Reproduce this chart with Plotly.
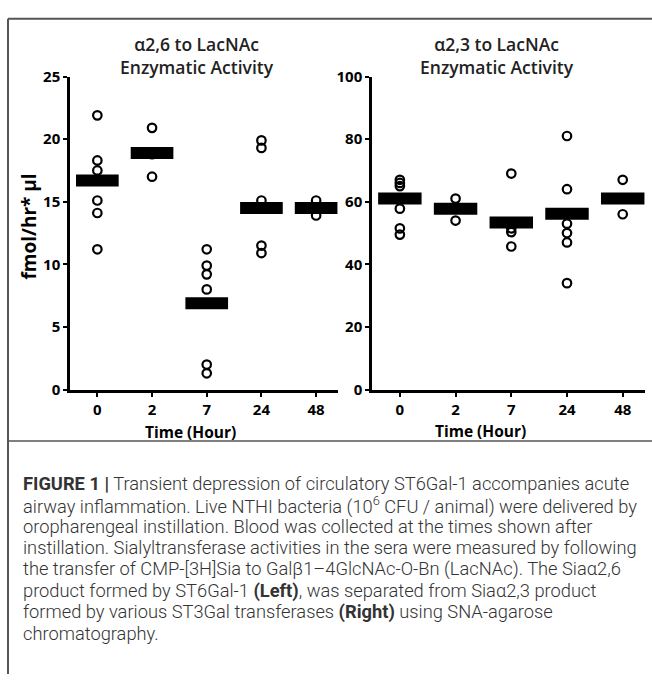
import plotly.graph_objects as go

W, H = 652, 683

times = ["0", "2", "7", "24", "48"]

# alpha2,6 (left) individual values
a26_t0 = [21.9, 18.3, 17.5, 15.1, 14.1, 11.2]
a26_t2 = [20.9, 18.8, 17.0]
a26_t7 = [11.2, 9.9, 9.2, 8.0, 2.0, 1.3]
a26_t24 = [19.9, 19.3, 15.1, 14.5, 11.5, 10.9]
a26_t48 = [15.1, 14.5, 13.9]
a26_means = [16.7, 18.9, 6.9, 14.5, 14.5]

# alpha2,3 (right) individual values
a23_t0 = [67.0, 66.0, 65.0, 57.8, 51.5, 49.5]
a23_t2 = [61.0, 57.8, 54.0]
a23_t7 = [69.0, 53.4, 51.5, 50.3, 45.7]
a23_t24 = [81.0, 64.0, 56.2, 53.0, 50.0, 47.0, 34.0]
a23_t48 = [67.0, 61.0, 56.0]
a23_means = [61.0, 57.8, 53.4, 56.2, 61.0]

left_groups = [a26_t0, a26_t2, a26_t7, a26_t24, a26_t48]
right_groups = [a23_t0, a23_t2, a23_t7, a23_t24, a23_t48]

fig = go.Figure()

HALF = 0.39


def add_panel(groups, means, xa, ya):
    xs, ys = [], []
    for i, g in enumerate(groups):
        xs += [i] * len(g)
        ys += g
    bx, by = [], []
    for i, m in enumerate(means):
        bx += [i - HALF, i + HALF, None]
        by += [m, m, None]
    fig.add_trace(go.Scatter(x=bx, y=by, mode="lines", xaxis=xa, yaxis=ya,
                             line=dict(color="black", width=12),
                             showlegend=False, hoverinfo="skip"))
    fig.add_trace(go.Scatter(x=xs, y=ys, mode="markers", xaxis=xa, yaxis=ya,
                             marker=dict(symbol="circle-open", size=8.5,
                                         color="black", line=dict(width=2.2, color="black")),
                             showlegend=False))


add_panel(left_groups, a26_means, "x", "y")
add_panel(right_groups, a23_means, "x2", "y2")

tickfont = dict(family="Open Sans", size=15, color="black", weight="bold")
xcommon = dict(range=[-0.5, 4.4], tickvals=list(range(len(times))), ticktext=times,
               showline=True, linecolor="black", linewidth=2.5, ticks="outside",
               ticklen=5, tickwidth=2, tickcolor="black", showgrid=False,
               zeroline=False, tickfont=tickfont)
ycommon = dict(showline=True, linecolor="black", linewidth=2.5, ticks="outside",
               ticklen=4, tickwidth=2, tickcolor="black", showgrid=False,
               zeroline=False, tickfont=tickfont)

ydom = [1 - 390 / H, 1 - 67.5 / H]
fig.update_layout(
    width=W, height=H, margin=dict(l=0, r=0, t=0, b=0),
    paper_bgcolor="white", plot_bgcolor="white",
    xaxis=dict(domain=[70 / W, 338 / W], anchor="y", **xcommon),
    yaxis=dict(domain=ydom, anchor="x", range=[0, 25], tickvals=[0, 5, 10, 15, 20, 25], **ycommon),
    xaxis2=dict(domain=[372 / W, 645 / W], anchor="y2", **xcommon),
    yaxis2=dict(domain=ydom, anchor="x2", range=[0, 100], tickvals=[0, 20, 40, 60, 80, 100], **ycommon),
)

ann = []
tfont = dict(family="Open Sans", size=17.5, color="#222", weight=600)


def add_text(text, x, y, font, **kw):
    d = dict(text=text, x=x / W, y=1 - y / H, font=font, showarrow=False,
             xref="paper", yref="paper", xanchor="center", yanchor="middle")
    d.update(kw)
    ann.append(d)


add_text("α2,6 to LacNAc<br>Enzymatic Activity", 197, 46, tfont)
add_text("α2,3 to LacNAc<br>Enzymatic Activity", 497, 46, tfont)
lfont = dict(family="Open Sans", size=15.5, color="black", weight="bold")
add_text("Time (Hour)", 190, 434, lfont)
add_text("Time (Hour)", 480, 433, lfont)
add_text("fmol/hr* µl", 29, 222,
         dict(family="Open Sans", size=19, color="black", weight="bold"), textangle=-90)

caption = [
    "<b>FIGURE 1 |</b> Transient depression of circulatory ST6Gal-1 accompanies acute",
    "airway inflammation. Live NTHI bacteria (10<sup>6</sup> CFU / animal) were delivered by",
    "oropharengeal instillation. Blood was collected at the times shown after",
    "instillation. Sialyltransferase activities in the sera were measured by following",
    "the transfer of CMP-[3H]Sia to Galβ1–4GlcNAc-O-Bn (LacNAc). The Siaα2,6",
    "product formed by ST6Gal-1 <b>(Left)</b>, was separated from Siaα2,3 product",
    "formed by various ST3Gal transferases <b>(Right)</b> using SNA-agarose",
    "chromatography.",
]
cfont = dict(family="Roboto", size=18.3, color="#333", weight=300)
for i, line in enumerate(caption):
    add_text(line, 21, 487 + 22 * i, cfont, xanchor="left")
fig.update_layout(annotations=ann)

fc = "#555"
fig.update_layout(shapes=[
    dict(type="line", xref="paper", yref="paper", x0=8 / W, x1=8 / W, y0=0, y1=1 - 8 / H,
         line=dict(color=fc, width=2)),
    dict(type="line", xref="paper", yref="paper", x0=8 / W, x1=1, y0=1 - 8 / H, y1=1 - 8 / H,
         line=dict(color=fc, width=2)),
    dict(type="line", xref="paper", yref="paper", x0=8 / W, x1=1, y0=1 - 443 / H, y1=1 - 443 / H,
         line=dict(color=fc, width=1.5)),
])

fig.write_html("out.html", config={"displayModeBar": False},
               post_script="document.body.style.margin='0';document.body.style.overflow='hidden';")
